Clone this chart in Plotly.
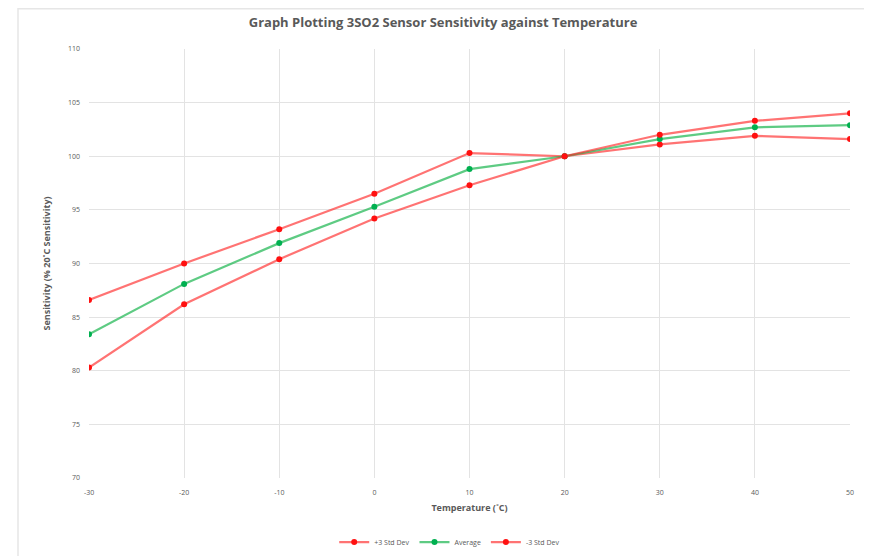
import plotly.graph_objects as go

temperature = [-30, -20, -10, 0, 10, 20, 30, 40, 50]
plus3_std = [86.6, 90.0, 93.2, 96.5, 100.3, 100.0, 101.1, 101.9, 101.6]
average = [83.4, 88.1, 91.9, 95.3, 98.8, 100.0, 101.6, 102.7, 102.9]
minus3_std = [80.3, 86.2, 90.4, 94.2, 97.3, 100.0, 102.0, 103.3, 104.0]

series_names = ["+3 Std Dev", "Average", "-3 Std Dev"]
x_ticks = [-30, -20, -10, 0, 10, 20, 30, 40, 50]
x_tick_text = ["-30", "-20", "-10", "0", "10", "20", "30", "40", "50"]
y_ticks = [70, 75, 80, 85, 90, 95, 100, 105, 110]

FONT = "Open Sans"
TXT = "#595959"

fig = go.Figure()
styles = [
    ("rgba(255,40,40,0.65)", "#ff1010"),
    ("rgba(40,185,90,0.75)", "#00b050"),
    ("rgba(255,40,40,0.65)", "#ff1010"),
]
for name, ys, (lc, mc) in zip(series_names, [plus3_std, average, minus3_std], styles):
    fig.add_trace(go.Scatter(
        x=temperature, y=ys, name=name, mode="lines+markers",
        line=dict(color=lc, width=2.2),
        marker=dict(color=mc, size=6, symbol="circle"),
    ))

fig.update_layout(
    width=864, height=548,
    margin=dict(l=81, r=22, t=41, b=78, autoexpand=False),
    paper_bgcolor="white", plot_bgcolor="white",
    font=dict(family=FONT, color=TXT, size=7),
    title=dict(text="<b>Graph Plotting 3SO2 Sensor Sensitivity against Temperature</b>",
               x=0.5035, xanchor="center", y=0.9745, yanchor="middle",
               font=dict(family=FONT, size=13, color=TXT)),
    showlegend=True,
    legend=dict(orientation="h", x=0.474, xanchor="center",
                yref="container", y=0.0255, yanchor="middle",
                font=dict(family=FONT, size=7, color=TXT), itemwidth=30),
    xaxis=dict(range=[-30, 50], tickvals=x_ticks, ticktext=x_tick_text,
               showgrid=True, gridcolor="#e3e3e3",
               gridwidth=1, zeroline=False, showline=False, ticks="",
               ticklabelstandoff=9,
               tickfont=dict(size=7, color=TXT),
               title=dict(text="<b>Temperature (˚C)</b>", font=dict(size=9, color=TXT), standoff=8)),
    yaxis=dict(range=[70, 110], tickvals=y_ticks, showgrid=True, gridcolor="#e3e3e3",
               gridwidth=1, zeroline=False, showline=False, ticks="",
               ticklabelstandoff=8,
               tickfont=dict(size=7, color=TXT),
               title=dict(text="<b>Sensitivity (% 20˚C Sensitivity)</b>", font=dict(size=9, color=TXT), standoff=15)),
    shapes=[dict(type="rect", xref="paper", yref="paper",
                 x0=-0.0933, x1=1.0237, y0=-0.2, y1=1.0938,
                 line=dict(color="#e6e6e6", width=1.5), layer="below")],
)

fig.write_html("out.html")
